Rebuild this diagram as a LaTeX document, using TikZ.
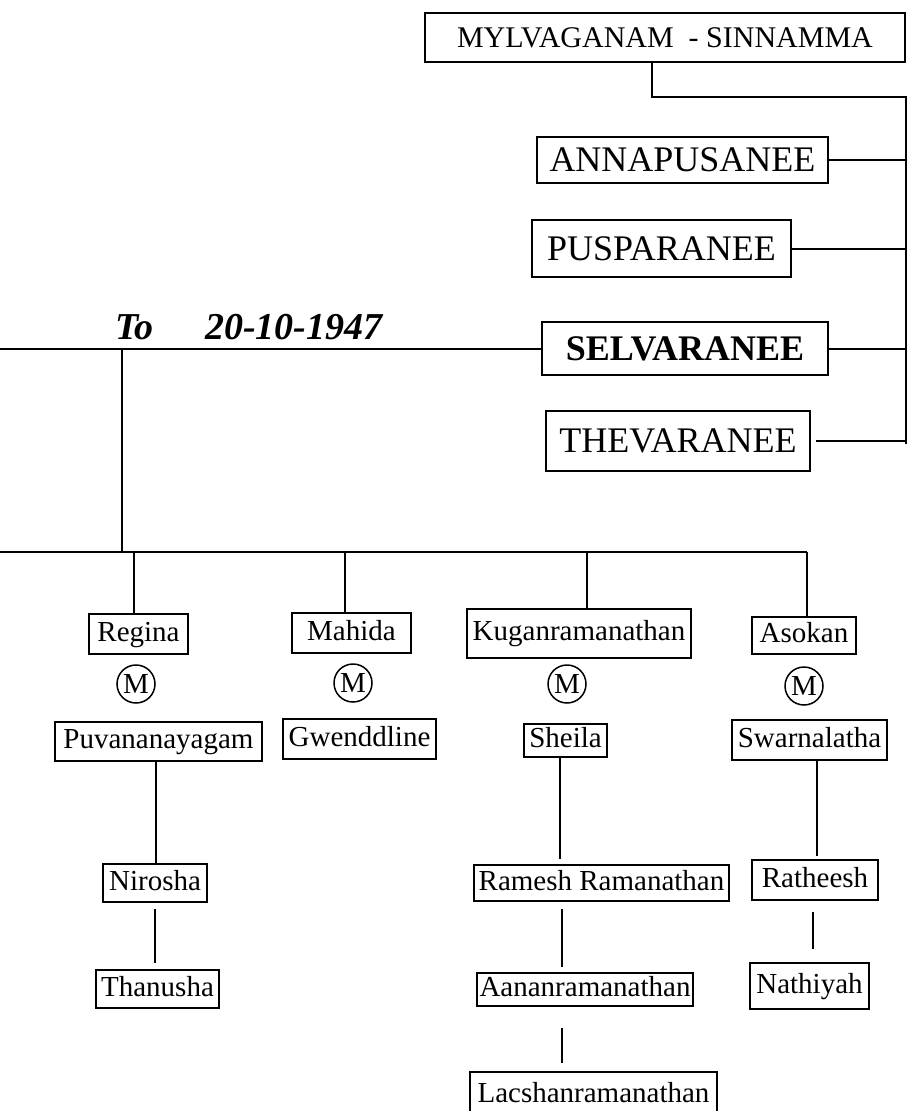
\documentclass[tikz,border=0pt]{standalone}
\usepackage{fontspec}
\setmainfont{Liberation Serif}
\tikzset{
	person/.style={draw, line width=2pt, inner sep=0pt, text height=20pt, text depth=6pt, font=\fontsize{29}{31}\selectfont},
	sibling/.style={draw, line width=2pt, inner sep=0pt, text height=24pt, text depth=1pt, font=\fontsize{36}{40}\selectfont},
	boxsize/.style 2 args={minimum width=#1, minimum height=#2},
	wed/.style={draw, circle, line width=1.5pt, inner sep=0pt, minimum size=38pt, font=\fontsize{29}{30}\selectfont},
	datefont/.style={anchor=base west, inner sep=0pt, font=\fontsize{38}{40}\selectfont\bfseries\itshape},
	link/.style={line width=2pt},
}

\begin{document}
\begin{tikzpicture}[x=1pt,y=-1pt]
				\useasboundingbox (0,0) rectangle (907,1111);
				
				% parents and their daughters
				\node[sibling, boxsize={480}{49}, text height=20pt, font=\fontsize{30}{32}\selectfont] (parents) at (665,37.5) {MYLVAGANAM\ \ - SINNAMMA};
				\node[sibling, boxsize={291}{46}] (anna) at (682.5,160) {ANNAPUSANEE};
				\node[sibling, boxsize={259}{57}] (pusp) at (661.5,248.5) {PUSPARANEE};
				\node[sibling, boxsize={286}{53}, font=\fontsize{36}{40}\selectfont\bfseries] (selv) at (685,348.5) {SELVARANEE};
				\node[sibling, boxsize={264}{60}] (thev) at (678,441) {THEVARANEE};
				
				\coordinate (pdrop) at (652,97);
				\coordinate (railtop) at (906,97);
				\coordinate (railend) at (906,444);
				\draw[link] (pdrop |- parents.south) -- (pdrop) -- (railtop) -- (railend);
				\draw[link] (anna.east) -- (anna.east -| railtop);
				\draw[link] (pusp.east) -- (pusp.east -| railtop);
				\draw[link] (selv.east) -- (selv.east -| railtop);
				\draw[link, shorten <=5pt] (thev.east) -- (thev.east -| railtop);
				
				% marriage
				\node[datefont] (to) at (115,339) {To};
				\node[datefont] (date) at (205,339) {20-10-1947};
				\coordinate (leftend) at (0,354);
				\draw[link] (selv.west) -- (selv.west -| leftend);
				
				\coordinate (kidsleft) at (0,552);
				\coordinate (kidsright) at (807,552);
				\coordinate (wedx) at (122,0);
				\draw[link] (wedx |- selv.west) -- (wedx |- kidsleft);
				\draw[link] (kidsleft) -- (kidsright);
				
				% children
				\node[person, boxsize={99}{40}] (regina) at (138.5,634) {Regina};
				\node[person, boxsize={119}{40}] (mahida) at (351.5,633) {Mahida};
				\node[person, boxsize={224}{49}] (kugan) at (579,633.5) {Kuganramanathan};
				\node[person, boxsize={104}{37}] (asokan) at (804,635.5) {Asokan};
				
				\coordinate (d1) at (134,552);
				\coordinate (d2) at (345,552);
				\coordinate (d3) at (587,552);
				\draw[link] (d1) -- (d1 |- regina.north);
				\draw[link] (d2) -- (d2 |- mahida.north);
				\draw[link] (d3) -- (d3 |- kugan.north);
				\draw[link] (kidsright) -- (kidsright |- asokan.north);
				
				\node[wed] (m1) at (136,684) {M};
				\node[wed] (m2) at (353,683) {M};
				\node[wed] (m3) at (567,684) {M};
				\node[wed] (m4) at (804,686) {M};
				
				\node[person, boxsize={207}{39}] (puvan) at (158.5,741.5) {Puvananayagam};
				\node[person, boxsize={153}{40}] (gwen) at (359.5,739) {Gwenddline};
				\node[person, boxsize={83}{33}] (sheila) at (565.5,740.5) {Sheila};
				\node[person, boxsize={155}{40}] (swarn) at (809.5,740) {Swarnalatha};
				
				% grandchildren
				\node[person, boxsize={104}{38}] (nirosha) at (155,883) {Nirosha};
				\node[person, boxsize={123}{38}] (thanusha) at (157.5,989) {Thanusha};
				\node[person, boxsize={255}{36}] (ramesh) at (601.5,883) {Ramesh Ramanathan};
				\node[person, boxsize={216}{33}] (aanan) at (585,989.5) {Aananramanathan};
				\node[person, boxsize={247}{46}] (lacsh) at (593.5,1095) {Lacshanramanathan};
				\node[person, boxsize={126}{40}] (ratheesh) at (815,880) {Ratheesh};
				\node[person, boxsize={119}{46}] (nathiyah) at (809.5,986) {Nathiyah};
				
				\coordinate (l1) at (156,0);
				\coordinate (l3) at (560,0);
				\coordinate (l4) at (562,0);
				\coordinate (l5) at (817,0);
				\coordinate (l6) at (813,0);
				\draw[link] (l1 |- puvan.south) -- (l1 |- nirosha.north);
				\draw[link, shorten <=6pt, shorten >=6pt] (nirosha.south) -- (nirosha.south |- thanusha.north);
				\draw[link, shorten >=5pt] (l3 |- sheila.south) -- (l3 |- ramesh.north);
				\draw[link, shorten <=7pt, shorten >=5pt] (l4 |- ramesh.south) -- (l4 |- aanan.north);
				\draw[link, shorten <=21pt, shorten >=8pt] (l4 |- aanan.south) -- (l4 |- lacsh.north);
				\draw[link, shorten >=3pt] (l5 |- swarn.south) -- (l5 |- ratheesh.north);
				\draw[link, shorten <=11pt, shorten >=13pt] (l6 |- ratheesh.south) -- (l6 |- nathiyah.north);
\end{tikzpicture}
\end{document}
